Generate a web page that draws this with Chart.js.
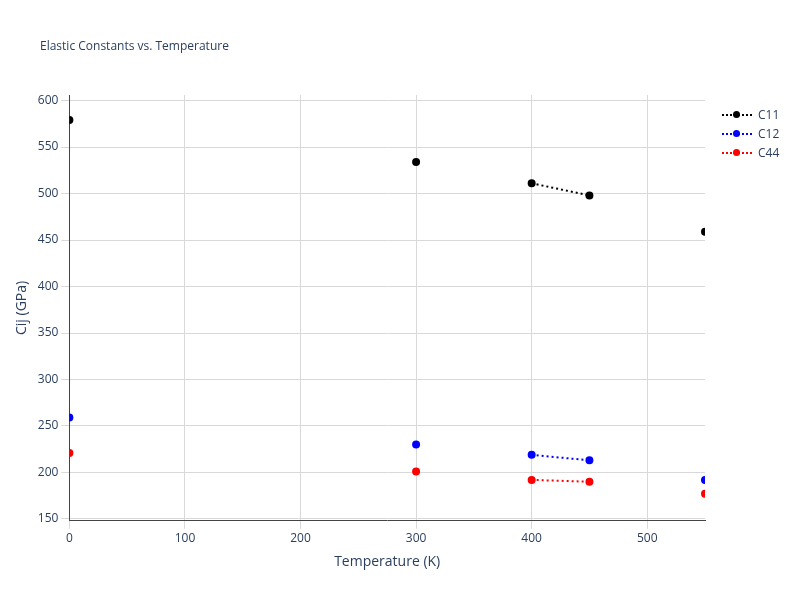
<!DOCTYPE html>
<html>
<head>
<meta charset="utf-8">
<script src="https://cdn.jsdelivr.net/npm/chart.js@4"></script>
<style>
  body { margin: 0; background: #fff; font-family: "Open Sans", sans-serif; color: #2a3f5f; }
  #wrap { width: 800px; height: 600px; position: relative; }
  #title { position: absolute; left: 40px; top: 37px; font-size: 12px; }
  #legend { position: absolute; left: 722px; top: 105px; font-size: 12px; }
  .item { height: 19px; display: flex; align-items: center; }
  .swatch { width: 30px; height: 10px; position: relative; margin-right: 6px; }
  .swatch .ln { position: absolute; left: 0; right: 0; top: 4px; border-top: 2px dotted; }
  .swatch .dot { position: absolute; left: 11px; top: 1px; width: 7px; height: 7px; border-radius: 50%; }
</style>
</head>
<body>
<div id="wrap">
  <canvas id="myChart" width="800" height="600"></canvas>
  <div id="title">Elastic Constants vs. Temperature</div>
  <div id="legend"></div>
</div>
<script>
// temperatures (K); null values break the dotted line like the original
const temps = [0, 150, 300, 350, 400, 450, 500, 550];
const c11 = [579, null, 534, null, 511, 498, null, 459];
const c12 = [259, null, 230, null, 219, 213, null, 192];
const c44 = [221, null, 201, null, 192, 190, null, 177];
const xTicks = [0, 100, 200, 300, 400, 500];
const yTicks = [150, 200, 250, 300, 350, 400, 450, 500, 550, 600];

function toPoints(vals) {
  return temps.map((t, i) => ({ x: t, y: vals[i] }));
}

function series(label, vals, color) {
  return {
    label: label,
    data: toPoints(vals),
    borderColor: color,
    backgroundColor: color,
    borderWidth: 2,
    borderDash: [2, 3],
    pointRadius: 3,
    pointHoverRadius: 4,
    spanGaps: false
  };
}

const datasets = [
  series("C11", c11, "#000000"),
  series("C12", c12, "#0000ff"),
  series("C44", c44, "#ff0000")
];

// legend as html so it sits where plotly puts it
const legend = document.getElementById("legend");
datasets.forEach(d => {
  const item = document.createElement("div");
  item.className = "item";
  item.innerHTML = `<span class="swatch"><span class="ln" style="border-color:${d.borderColor}"></span>` +
    `<span class="dot" style="background:${d.borderColor}"></span></span>${d.label}`;
  legend.appendChild(item);
});

const ctx = document.getElementById("myChart").getContext("2d");
new Chart(ctx, {
  type: "line",
  data: { datasets: datasets },
  options: {
    responsive: false,
    animation: false,
    layout: { padding: { top: 95, left: 10, right: 95, bottom: 26 } },
    plugins: { legend: { display: false } },
    scales: {
      x: {
        type: "linear",
        min: 0,
        max: 550,
        afterBuildTicks: (axis) => { axis.ticks = xTicks.map(v => ({ value: v })); },
        ticks: { color: "#2a3f5f", font: { family: "Open Sans", size: 12 } },
        grid: { color: "#d9d9d9" },
        border: { color: "#444" },
        title: {
          display: true,
          text: "Temperature (K)",
          color: "#2a3f5f",
          font: { family: "Open Sans", size: 14 }
        }
      },
      y: {
        min: 148,
        max: 606,
        afterBuildTicks: (axis) => { axis.ticks = yTicks.map(v => ({ value: v })); },
        ticks: { color: "#2a3f5f", font: { family: "Open Sans", size: 12 } },
        grid: { color: "#d9d9d9" },
        border: { color: "#444" },
        title: {
          display: true,
          text: "Cij (GPa)",
          color: "#2a3f5f",
          font: { family: "Open Sans", size: 14 }
        }
      }
    }
  }
});
</script>
</body>
</html>
